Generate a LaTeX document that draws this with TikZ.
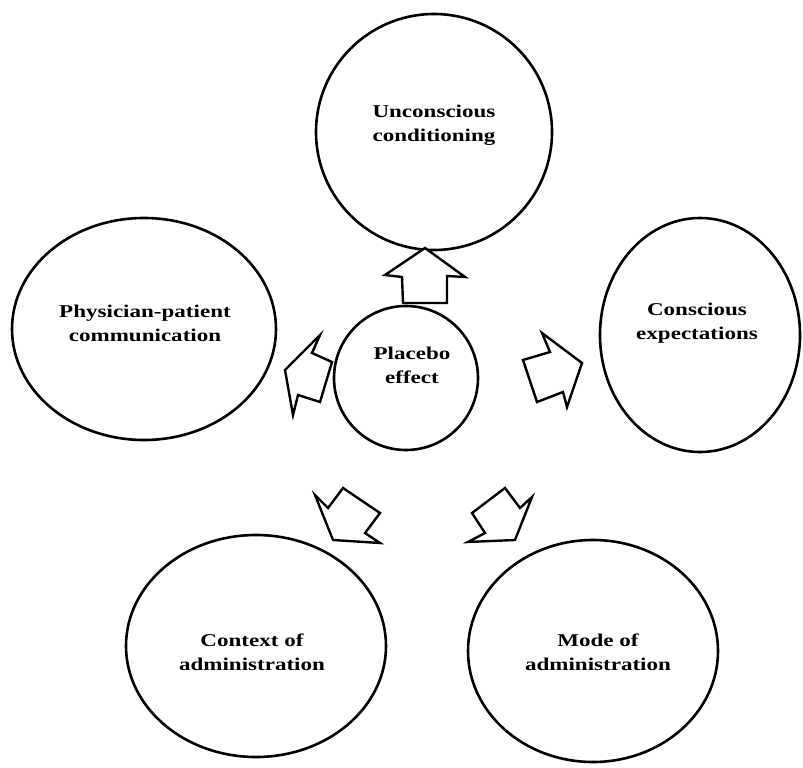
\documentclass[tikz,border=0pt]{standalone}
\usepackage{fontspec}
\setmainfont{Liberation Serif}[FakeStretch=1.28]
\usetikzlibrary{shapes.geometric}
\begin{document}
\begin{tikzpicture}[x=1pt,y=-1pt,
  bubble/.style={draw=black,line width=2.6pt,ellipse,inner sep=0pt,fill=white},
  lbl/.style={align=center,font=\fontsize{18}{24}\selectfont\bfseries,inner sep=0pt},
  blockarrow/.style={draw=black,line width=2.4pt,fill=white,line join=miter}]
\useasboundingbox (0,0) rectangle (803,768);
\fill[white] (0,0) rectangle (803,768);
% outer bubbles
\node[bubble,minimum width=236pt,minimum height=236pt] (uc) at (434,132) {};
\node[bubble,minimum width=200pt,minimum height=234pt] (ce) at (700,335) {};
\node[bubble,minimum width=264pt,minimum height=222pt] (pp) at (144,329) {};
\node[bubble,minimum width=144pt,minimum height=144pt] (pe) at (406,378) {};
\node[bubble,minimum width=260pt,minimum height=222pt] (ca) at (256,646) {};
\node[bubble,minimum width=250pt,minimum height=222pt] (ma) at (593,651) {};
% labels
\node[lbl] (tuc) at (434,125) {Unconscious\\conditioning};
\node[lbl] (tce) at (697,323) {Conscious\\expectations};
\node[lbl] (tpp) at (145,323) {Physician-patient\\communication};
\node[lbl] (tpe) at (412,365) {Placebo\\effect};
\node[lbl] (tca) at (252,652) {Context of\\administration};
\node[lbl] (tma) at (598,652) {Mode of\\administration};
% block arrows
\draw[blockarrow] (425,248) -- (465,277) -- (447,276) -- (447,303) -- (403,303) -- (402,277) -- (385,275) -- cycle;
\draw[blockarrow] (582,363) -- (542,333) -- (550,352) -- (523,360) -- (537,402) -- (563,392) -- (567,407) -- cycle;
\draw[blockarrow] (285,370) -- (320,335) -- (312,353) -- (332,362) -- (320,402) -- (298,395) -- (293,415) -- cycle;
\draw[blockarrow] (333,540) -- (315,495) -- (328,508) -- (343,488) -- (380,513) -- (365,533) -- (380,543) -- cycle;
\draw[blockarrow] (515,540) -- (532,497) -- (520,508) -- (505,488) -- (472,513) -- (485,533) -- (468,542) -- cycle;
\end{tikzpicture}
\end{document}
